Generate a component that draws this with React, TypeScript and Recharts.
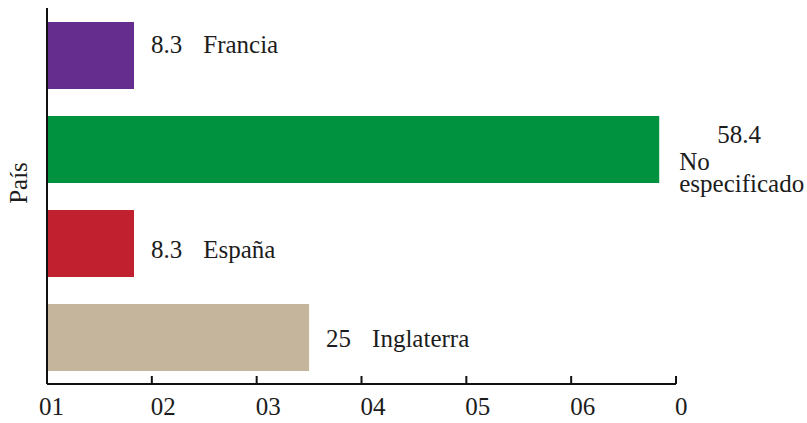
import { BarChart, Bar, XAxis, YAxis, Cell, LabelList } from 'recharts';

const paises = ['Francia', 'No especificado', 'España', 'Inglaterra'];
const porcentajes = [8.3, 58.4, 8.3, 25];
const colores = ['#652D8E', '#00923F', '#C1202F', '#C4B59C'];
const ticks = [0, 10, 20, 30, 40, 50, 60];
const tickLabels = ['01', '02', '03', '04', '05', '06', '0'];
// small per-row nudges so the text sits where it does in the original
const labelDy = [-3, 0, 14, 9];

const INK = '#1c1c1c';
const txt = { fontFamily: 'Liberation Serif, serif', fontSize: 25, fill: INK };

const data = paises.map((pais, i) => ({ pais, valor: porcentajes[i] }));

function BarLabel(props: any) {
  const { x, y, width, height, value, index } = props;
  const name = paises[index];
  const end = x + width;
  const cy = y + height / 2;
  if (end + 230 > 807) {
    // not enough room on the right, wrap like the original
    const words = name.split(' ');
    return (
      <g>
        <text x={end + 58} y={cy - 7} style={txt}>{value}</text>
        {words.map((w: string, i: number) => (
          <text key={w} x={end + 20} y={cy + 20 + i * 22} style={txt}>{w}</text>
        ))}
      </g>
    );
  }
  return (
    <text x={end + 17} y={cy + labelDy[index]} style={txt}>
      <tspan>{value}</tspan>
      <tspan dx={21}>{name}</tspan>
    </text>
  );
}

function XTick(props: any) {
  const { x, y, index } = props;
  return (
    <g>
      <line x1={x} x2={x} y1={y - 8} y2={y} stroke="#111" strokeWidth={2} />
      <text x={index === 0 ? x - 8 : x - 1} y={y + 31} textAnchor="start" style={txt}>
        {tickLabels[index]}
      </text>
    </g>
  );
}

function PaisLabel(props: any) {
  const { viewBox } = props;
  const cx = viewBox.x + 27;
  const cy = viewBox.y + viewBox.height / 2 - 13;
  return (
    <text x={cx} y={cy} transform={`rotate(-90 ${cx} ${cy})`} textAnchor="middle" style={txt}>
      País
    </text>
  );
}

export default function App() {
  return (
    <div style={{ position: 'absolute', left: 0, top: 0, width: 807, height: 423, background: '#fff' }}>
      <BarChart
        width={807}
        height={423}
        data={data}
        layout="vertical"
        margin={{ top: 8, right: 131, bottom: 0, left: 0 }}
      >
        <XAxis
          type="number"
          domain={[0, 60]}
          ticks={ticks}
          height={39}
          tickSize={0}
          tickMargin={0}
          tickLine={false}
          axisLine={{ stroke: '#111', strokeWidth: 2 }}
          tick={<XTick />}
          interval={0}
        />
        <YAxis
          type="category"
          dataKey="pais"
          width={47}
          tick={false}
          tickLine={false}
          axisLine={{ stroke: '#111', strokeWidth: 2 }}
          label={<PaisLabel />}
        />
        <Bar dataKey="valor" barSize={67} isAnimationActive={false}>
          {data.map((_, i) => (
            <Cell key={i} fill={colores[i]} />
          ))}
          <LabelList dataKey="valor" content={<BarLabel />} />
        </Bar>
      </BarChart>
    </div>
  );
}
